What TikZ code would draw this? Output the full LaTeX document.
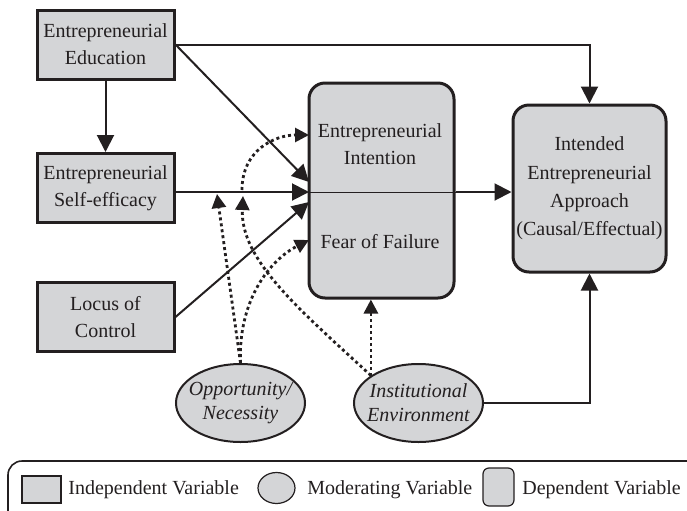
\documentclass[tikz,border=0pt]{standalone}
\usepackage{fontspec}
\setmainfont{Liberation Serif}
\usetikzlibrary{shapes.geometric,arrows.meta,positioning,calc}
\definecolor{boxgray}{RGB}{212,213,215}
\definecolor{inkline}{RGB}{35,31,32}

\begin{document}
\begin{tikzpicture}[x=0.5pt,y=0.5pt,yscale=-1,xscale=1,
  txt/.style={font=\fontsize{10}{13.5}\selectfont, align=center, text=inkline},
  indep/.style={draw=inkline, line width=1.5pt, fill=boxgray, minimum width=68.5pt, minimum height=34.5pt, inner sep=0pt, txt},
  dep/.style={draw=inkline, line width=1.5pt, fill=boxgray, rounded corners=8pt, inner sep=0pt, txt},
  moder/.style={ellipse, draw=inkline, line width=1pt, fill=boxgray, minimum width=64.5pt, minimum height=39pt, inner sep=0pt},
  modtxt/.style={txt, font=\fontsize{10}{12}\selectfont\itshape},
  arr/.style={draw=inkline, line width=1pt, -{Triangle[length=8.5pt,width=8.5pt]}},
  dots/.style={draw=inkline, line width=1.4pt, dash pattern=on 1.5pt off 1.5pt, -{Triangle[length=7pt,width=7pt]}},
]
\useasboundingbox (0,0) rectangle (687,510);
\clip (0,0) rectangle (687,510);

%Shape: Rectangle [independent variables]
\node[indep] (edu) at (105.5,44.5) {Entrepreneurial\\Education};
\node[indep] (self) at (105.5,188) {Entrepreneurial\\Self-efficacy};
\node[indep] (locus) at (105.5,317) {Locus of\\Control};

%Shape: Rounded Rect [dependent variables]
\node[dep, minimum width=72.5pt, minimum height=107.5pt] (intent) at (381.5,190.5) {};
\node[dep, minimum width=76.5pt, minimum height=83.5pt, font=\fontsize{10}{14.2}\selectfont] (approach) at (589.5,188.5) {Intended\\Entrepreneurial\\Approach\\(Causal/Effectual)};

% Text Node
\node[txt] (intlab) at (380,144) {Entrepreneurial\\Intention};
% Text Node
\node[txt] (fearlab) at (380,242) {Fear of Failure};

%Shape: Ellipse [moderating variables]
\node[moder] (opp) at (240.5,403) {};
\node[modtxt] (opplab) at (opp) {Opportunity/\\Necessity};
\node[moder] (inst) at (418.5,403) {};
\node[modtxt] (instlab) at (inst) {Institutional\\Environment};

% Connectors
\coordinate (m) at (309,192);
\coordinate (edutip) at (309,182);
\coordinate (loctip) at (309,202);
\draw[arr] (edu.east) -| (approach.north);
\draw[arr] (edu.south) -- (self.north);
\draw[arr] (edu.east) -- (edutip);
\draw[arr] (self.east |- m) -- (m);
\draw[draw=inkline, line width=0.5pt] (m) -- (m -| intent.east);
\draw[arr] (m -| intent.east) -- (m -| approach.west);
\draw[arr] (locus.east) -- (loctip);
\draw[arr] (inst.east) -| (approach.south);

% Dotted connectors
\coordinate (oppA) at (217,194);
\coordinate (fearin) at (309,240);
\coordinate (instA) at (243,196);
\coordinate (lineB) at (242,190);
\coordinate (intin) at (309,135);
\draw[dots] (opp.north) -- (oppA);
\draw[dots] (opp.north) .. controls (238,300) and (270,260) .. (fearin);
\draw[dots] (inst.150) -- (inst.150 |- intent.south);
\draw[dots] (inst.150) .. controls (300,310) and (240,260) .. (instA);
\draw[dots] (lineB) .. controls (242,150) and (275,135) .. (intin);

%Shape: Legend frame
\draw[draw=inkline, line width=0.8pt, rounded corners=7pt] (8,461) rectangle (720,540);
\node[draw=inkline, line width=0.6pt, fill=boxgray, minimum width=19.5pt, minimum height=13.5pt, inner sep=0pt] (keyindep) at (41.5,489.5) {};
\node[txt, anchor=west, inner sep=0pt] (keyindeplab) at (68,490) {Independent Variable};
\node[ellipse, draw=inkline, line width=0.6pt, fill=boxgray, minimum width=18.5pt, minimum height=15.5pt, inner sep=0pt] (keymod) at (276.5,488) {};
\node[txt, anchor=west, inner sep=0pt] (keymodlab) at (307,490) {Moderating Variable};
\node[draw=inkline, line width=0.6pt, fill=boxgray, rounded corners=3pt, minimum width=15.5pt, minimum height=19pt, inner sep=0pt] (keydep) at (498.5,487) {};
\node[txt, anchor=west, inner sep=0pt] (keydeplab) at (522,490) {Dependent Variable};

\end{tikzpicture}
\end{document}
